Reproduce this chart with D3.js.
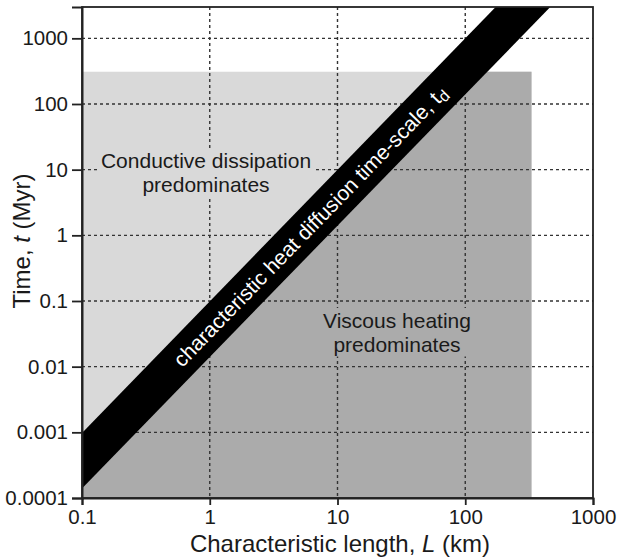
<!DOCTYPE html>
<html>
<head>
<meta charset="utf-8">
<script src="https://cdn.jsdelivr.net/npm/d3@7"></script>
<style>
  html, body { margin: 0; padding: 0; background: #fff; }
  svg text { font-family: "Liberation Sans", Arial, Helvetica, sans-serif; }
</style>
</head>
<body>
<svg id="chart" width="618" height="559"></svg>
<script>
// Axis ticks (log decades)
const xTicks = [0.1, 1, 10, 100, 1000];
const yTicks = [0.0001, 0.001, 0.01, 0.1, 1, 10, 100, 1000];
const xTickLabels = ["0.1", "1", "10", "100", "1000"];
const yTickLabels = ["0.0001", "0.001", "0.01", "0.1", "1", "10", "100", "1000"];

// Domain of the diagram
const xDomain = [0.1, 1000];
const yDomain = [0.0001, 3000];

// Shaded field: length up to ~330 km, time up to ~310 Myr
const fieldL = [0.1, 330];
const fieldT = [0.0001, 310];

// Edges of the heat-diffusion time-scale band t_d, as [L (km), t (Myr)] end points
const bandUpper = [[0.1, 0.00098], [173, 3000]];
const bandLower = [[0.1, 0.00014], [463, 3000]];
</script>
<script>
const svg = d3.select("#chart");
const margin = { left: 82, top: 7, right: 618 - 593, bottom: 559 - 498 };
const W = 618 - margin.left - margin.right;
const H = 559 - margin.top - margin.bottom;

const x = d3.scaleLog().domain(xDomain).range([0, W]);
const y = d3.scaleLog().domain(yDomain).range([H, 0]);

const LIGHT = "#d9d9d9";
const DARK = "#ababab";
const INK = "#1a1a1a";

const g = svg.append("g").attr("transform", `translate(${margin.left},${margin.top})`);

g.append("clipPath").attr("id", "plotclip")
  .append("rect").attr("width", W).attr("height", H);

const plot = g.append("g").attr("clip-path", "url(#plotclip)");

// Light field (conductive dissipation)
plot.append("rect")
  .attr("x", x(fieldL[0])).attr("y", y(fieldT[1]))
  .attr("width", x(fieldL[1]) - x(fieldL[0]))
  .attr("height", y(fieldT[0]) - y(fieldT[1]))
  .attr("fill", LIGHT);

// Dark field (viscous heating): below the lower band edge, inside the field
const lowSlope = Math.log10(bandLower[1][1] / bandLower[0][1]) / Math.log10(bandLower[1][0] / bandLower[0][0]);
const Lcross = bandLower[0][0] * Math.pow(fieldT[1] / bandLower[0][1], 1 / lowSlope);
const darkPts = [
  [fieldL[0], fieldT[0]],
  [bandLower[0][0], bandLower[0][1]],
  [Lcross, fieldT[1]],
  [fieldL[1], fieldT[1]],
  [fieldL[1], fieldT[0]]
];
const line = d3.line().x(d => x(d[0])).y(d => y(d[1]));
plot.append("path").attr("d", line(darkPts) + "Z").attr("fill", DARK);

// Dashed decade grid
const grid = plot.append("g")
  .attr("stroke", "#333").attr("stroke-width", 1.4)
  .attr("stroke-dasharray", "3,3");
grid.selectAll("line.h").data(yTicks.slice(1)).join("line")
  .attr("x1", 0).attr("x2", W)
  .attr("y1", d => y(d)).attr("y2", d => y(d));
grid.selectAll("line.v").data(xTicks.slice(1, -1)).join("line")
  .attr("y1", 0).attr("y2", H)
  .attr("x1", d => x(d)).attr("x2", d => x(d));

// Region labels with backgrounds that hide the grid behind them
function regionLabel(lines, cx, cy, bg) {
  const grp = plot.append("g");
  const bgRect = grp.append("rect").attr("fill", bg);
  const t = grp.append("text")
    .attr("text-anchor", "middle")
    .attr("font-size", 21)
    .attr("fill", INK);
  lines.forEach((s, i) => {
    t.append("tspan").attr("x", cx).attr("y", cy + i * 23.5).text(s);
  });
  const bb = t.node().getBBox();
  bgRect.attr("x", bb.x - 3).attr("y", bb.y - 1)
    .attr("width", bb.width + 6).attr("height", bb.height + 2);
}
regionLabel(["Conductive dissipation", "predominates"], 206 - margin.left, 168 - margin.top, LIGHT);
regionLabel(["Viscous heating", "predominates"], 397 - margin.left, 328 - margin.top, DARK);

// Black band t_d
const bandPts = bandUpper.concat(bandLower.slice().reverse());
plot.append("path").attr("d", line(bandPts) + "Z").attr("fill", "#000");

// Band label along its centre line
const centre = L => {
  const tu = Math.exp(d3.scaleLinear()
    .domain(bandUpper.map(p => Math.log(p[0]))).range(bandUpper.map(p => Math.log(p[1])))(Math.log(L)));
  const tl = Math.exp(d3.scaleLinear()
    .domain(bandLower.map(p => Math.log(p[0]))).range(bandLower.map(p => Math.log(p[1])))(Math.log(L)));
  return [x(L), (y(tu) + y(tl)) / 2];
};
const pa = centre(0.1), pb = centre(6.1);
const ang = Math.atan2(pb[1] - pa[1], pb[0] - pa[0]) * 180 / Math.PI;
const bandText = plot.append("text")
  .attr("transform", `translate(${pb[0]},${pb[1]}) rotate(${ang})`)
  .attr("text-anchor", "middle")
  .attr("dy", "0.36em")
  .attr("font-size", 21)
  .attr("fill", "#fff");
bandText.append("tspan").text("characteristic heat diffusion time-scale, t");
bandText.append("tspan").attr("font-size", 16).attr("dy", "0.2em").text("d");

// Frame
g.append("rect").attr("width", W).attr("height", H)
  .attr("fill", "none").attr("stroke", "#222").attr("stroke-width", 1.8);

// Axes
const xAxis = d3.axisBottom(x).tickValues(xTicks)
  .tickFormat((d, i) => xTickLabels[i]).tickSize(7).tickPadding(4);
const yAxis = d3.axisLeft(y).tickValues(yTicks)
  .tickFormat((d, i) => yTickLabels[i]).tickSize(10).tickPadding(4);

const gx = g.append("g").attr("transform", `translate(0,${H})`).call(xAxis);
const gy = g.append("g").call(yAxis);
[gx, gy].forEach(a => {
  a.select(".domain").attr("stroke", "#222").attr("stroke-width", 2);
  a.selectAll(".tick line").attr("stroke", "#222").attr("stroke-width", 1.8);
  a.selectAll(".tick text").attr("font-size", 20.5).attr("fill", INK)
    .attr("font-family", "'Liberation Sans', Arial, sans-serif");
});

// Axis titles
const xt = svg.append("text")
  .attr("x", 340).attr("y", 552)
  .attr("text-anchor", "middle").attr("font-size", 24).attr("fill", INK);
xt.append("tspan").text("Characteristic length, ");
xt.append("tspan").attr("font-style", "italic").text("L");
xt.append("tspan").text(" (km)");

const yt = svg.append("text")
  .attr("transform", "translate(30,241) rotate(-90)")
  .attr("text-anchor", "middle").attr("font-size", 24).attr("fill", INK);
yt.append("tspan").text("Time, ");
yt.append("tspan").attr("font-style", "italic").text("t");
yt.append("tspan").text(" (Myr)");
</script>
</body>
</html>
